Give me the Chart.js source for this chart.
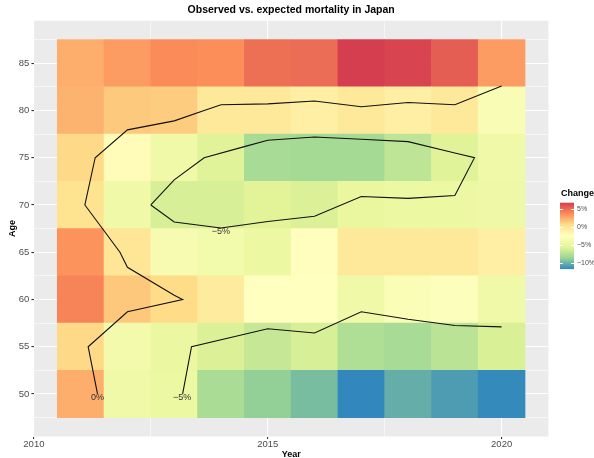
<!DOCTYPE html>
<html lang="en">
<head>
<meta charset="UTF-8">
<title>Observed vs. expected mortality in Japan</title>
<script src="https://cdn.jsdelivr.net/npm/chart.js"></script>
<style>
  body { margin: 0; background: #fff; }
  #wrap { width: 594px; height: 458px; }
</style>
</head>
<body>
<div id="wrap"><canvas id="chart" width="594" height="458"></canvas></div>
<script>
// tiles: one row per age band, columns are years
const years = [2011, 2012, 2013, 2014, 2015, 2016, 2017, 2018, 2019, 2020];
const ages = [50, 55, 60, 65, 70, 75, 80, 85];
const change50 = [2.5, -4.4, -4.8, -8.0, -8.9, -9.65, -11.8, -10.3, -11.0, -11.7];
const change55 = [0.9, -4.0, -4.9, -6.0, -6.9, -6.2, -7.8, -8.1, -7.3, -6.1];
const change60 = [4.15, 1.55, 0.8, -0.5, -2.5, -2.5, -4.3, -3.2, -2.8, -4.3];
const change65 = [3.5, 0.0, -3.6, -4.1, -4.8, -2.4, -0.2, -0.2, -0.3, -0.9];
const change70 = [0.3, -4.4, -6.2, -6.2, -5.7, -6.0, -5.0, -4.8, -4.8, -4.5];
const change75 = [0.9, -2.1, -4.4, -5.8, -8.1, -8.2, -8.2, -7.2, -5.8, -4.4];
const change80 = [2.3, 1.5, 1.4, -0.2, -0.3, -0.9, -0.2, -0.9, -0.3, -3.3];
const change85 = [2.5, 3.2, 3.8, 3.7, 4.9, 5.0, 6.85, 6.6, 5.6, 3.2];
const changeByAge = [change50, change55, change60, change65, change70, change75, change80, change85];

// contour lines (year, age)
const contourZero = [
  {x: 2020.0, y: 82.6}, {x: 2019.0, y: 80.6}, {x: 2018.0, y: 80.85}, {x: 2017.0, y: 80.4},
  {x: 2016.0, y: 81.0}, {x: 2015.0, y: 80.7}, {x: 2014.0, y: 80.6}, {x: 2013.64, y: 80.0},
  {x: 2013.0, y: 78.9}, {x: 2012.0, y: 77.95}, {x: 2011.31, y: 75.0}, {x: 2011.09, y: 70.0},
  {x: 2011.84, y: 65.0}, {x: 2012.0, y: 63.4}, {x: 2013.0, y: 60.45}, {x: 2013.18, y: 60.0},
  {x: 2012.0, y: 58.7}, {x: 2011.16, y: 55.0}, {x: 2011.36, y: 50.0}
];
const contourInner = [
  {x: 2012.5, y: 70.0}, {x: 2013.0, y: 72.65}, {x: 2013.64, y: 75.0}, {x: 2014.48, y: 76.15},
  {x: 2015.0, y: 76.85}, {x: 2016.0, y: 77.2}, {x: 2017.0, y: 76.95}, {x: 2018.0, y: 76.7},
  {x: 2019.0, y: 75.5}, {x: 2019.42, y: 75.0}, {x: 2019.0, y: 71.0}, {x: 2018.0, y: 70.7},
  {x: 2017.0, y: 70.9}, {x: 2016.0, y: 68.8}, {x: 2015.0, y: 68.25}, {x: 2014.0, y: 67.56},
  {x: 2013.0, y: 68.2}, {x: 2012.5, y: 70.0}
];
const contourLower = [
  {x: 2013.18, y: 50.0}, {x: 2013.37, y: 55.0}, {x: 2015.0, y: 56.9}, {x: 2016.0, y: 56.45},
  {x: 2017.0, y: 58.7}, {x: 2018.0, y: 57.9}, {x: 2019.0, y: 57.25}, {x: 2020.0, y: 57.1}
];
const contourLabels = [
  {x: 2011.36, y: 49.65, text: '0%'},
  {x: 2013.17, y: 49.65, text: '\u22125%'},
  {x: 2014.0, y: 67.15, text: '\u22125%'}
];

const xGrid = [2010, 2012.5, 2015, 2017.5, 2020];
const yGrid = [47.5, 50, 52.5, 55, 57.5, 60, 62.5, 65, 67.5, 70, 72.5, 75, 77.5, 80, 82.5, 85, 87.5];
const legendBreaks = [5, 0, -5, -10];
const spectral = ['#3288BD', '#99D594', '#E6F598', '#FFFFBF', '#FEE08B', '#FC8D59', '#D53E4F'];

const allValues = changeByAge.flat();
const vMin = Math.min(...allValues);
const vMax = Math.max(...allValues);
const font = 'Liberation Sans, Arial, Helvetica, sans-serif';

function hexRgb(h) {
  return [parseInt(h.slice(1, 3), 16), parseInt(h.slice(3, 5), 16), parseInt(h.slice(5, 7), 16)];
}
function fillFor(v) {
  let t = (v - vMin) / (vMax - vMin) * (spectral.length - 1);
  t = Math.max(0, Math.min(spectral.length - 1, t));
  const i = Math.min(Math.floor(t), spectral.length - 2);
  const f = t - i;
  const a = hexRgb(spectral[i]), b = hexRgb(spectral[i + 1]);
  const c = a.map((x, k) => Math.round(x + (b[k] - x) * f));
  return 'rgb(' + c.join(',') + ')';
}

const tileSets = ages.map((age, r) => ({
  type: 'bar',
  order: 1,
  grouped: false,
  barPercentage: 1,
  categoryPercentage: 1,
  data: years.map(yr => ({x: yr, y: [age - 2.5, age + 2.5]})),
  backgroundColor: changeByAge[r].map(fillFor),
  borderWidth: 0
}));

function lineSet(points) {
  return {
    type: 'line', order: 0, data: points, borderColor: '#111', borderWidth: 1.1,
    pointRadius: 0, tension: 0, fill: false
  };
}

const panelBg = {
  id: 'panelBg',
  beforeDraw(chart) {
    const {ctx, chartArea: a} = chart;
    ctx.save();
    ctx.fillStyle = '#EBEBEB';
    ctx.fillRect(a.left, a.top, a.right - a.left, a.bottom - a.top);
    ctx.restore();
  }
};

const contourText = {
  id: 'contourText',
  afterDatasetsDraw(chart) {
    const {ctx, scales: {x, y}} = chart;
    ctx.save();
    ctx.font = '9px ' + font;
    ctx.fillStyle = '#333333';
    ctx.textAlign = 'center';
    ctx.textBaseline = 'middle';
    contourLabels.forEach(l => ctx.fillText(l.text, x.getPixelForValue(l.x), y.getPixelForValue(l.y)));
    ctx.restore();
  }
};

const colourBar = {
  id: 'colourBar',
  afterDraw(chart) {
    const ctx = chart.ctx;
    const left = 560, width = 14, top = 202.7, height = 66.4;
    ctx.save();
    ctx.font = 'bold 9px ' + font;
    ctx.fillStyle = '#000';
    ctx.textBaseline = 'middle';
    ctx.fillText('Change', 561, 194);
    const g = ctx.createLinearGradient(0, top + height, 0, top);
    spectral.forEach((c, i) => g.addColorStop(i / (spectral.length - 1), c));
    ctx.fillStyle = g;
    ctx.fillRect(left, top, width, height);
    const py = v => top + height - (v - vMin) / (vMax - vMin) * height;
    ctx.strokeStyle = '#fff';
    ctx.lineWidth = 1;
    ctx.font = '7px ' + font;
    ctx.fillStyle = '#4d4d4d';
    legendBreaks.forEach(v => {
      const yy = Math.round(py(v)) + 0.5;
      ctx.beginPath();
      ctx.moveTo(left, yy); ctx.lineTo(left + 2.8, yy);
      ctx.moveTo(left + width - 2.8, yy); ctx.lineTo(left + width, yy);
      ctx.stroke();
      ctx.fillText((v < 0 ? '\u2212' + Math.abs(v) : String(v)) + '%', left + width + 3, py(v));
    });
    ctx.restore();
  }
};

const isMajor = v => v % 5 === 0;

new Chart(document.getElementById('chart'), {
  type: 'bar',
  data: {
    datasets: [lineSet(contourZero), lineSet(contourInner), lineSet(contourLower)].concat(tileSets)
  },
  options: {
    responsive: false,
    devicePixelRatio: 1,
    animation: false,
    layout: { padding: { left: 0, top: 0, right: 45.6, bottom: 0 } },
    plugins: {
      legend: { display: false },
      tooltip: { enabled: false },
      title: {
        display: true, fullSize: false,
        text: 'Observed vs. expected mortality in Japan',
        color: '#000', font: { size: 10.5, weight: 'bold', family: font },
        padding: { top: 4.2, bottom: 3.9 }
      }
    },
    scales: {
      x: {
        type: 'linear', min: 2010, max: 2021, offset: false,
        border: { display: false },
        grid: {
          offset: false, color: '#fff',
          lineWidth: c => (c.tick && isMajor(c.tick.value)) ? 1.1 : 0.55,
          tickColor: c => (c.tick && isMajor(c.tick.value)) ? '#333333' : 'rgba(0,0,0,0)',
          tickLength: 2.5, tickWidth: 1.1
        },
        ticks: {
          autoSkip: false, maxRotation: 0, padding: 0, color: '#4d4d4d',
          font: { size: 9.5, family: font },
          callback: v => isMajor(v) ? String(v) : ''
        },
        afterBuildTicks: s => { s.ticks = xGrid.map(v => ({value: v})); },
        afterFit: s => { s.height = 21.5; },
        title: { display: true, text: 'Year', color: '#000', font: { size: 9, weight: 'bold', family: font }, padding: { top: 0, bottom: -2 } }
      },
      y: {
        type: 'linear', min: 45.5, max: 89.5,
        border: { display: false },
        grid: {
          color: '#fff',
          lineWidth: c => (c.tick && isMajor(c.tick.value)) ? 1.1 : 0.55,
          tickColor: c => (c.tick && isMajor(c.tick.value)) ? '#333333' : 'rgba(0,0,0,0)',
          tickLength: 2.5, tickWidth: 1.1
        },
        ticks: {
          autoSkip: false, padding: 2, color: '#4d4d4d',
          font: { size: 9.5, family: font },
          callback: v => isMajor(v) ? String(v) : ''
        },
        afterBuildTicks: s => { s.ticks = yGrid.map(v => ({value: v})); },
        afterFit: s => { s.width = 33.9; },
        title: { display: true, text: 'Age', color: '#000', font: { size: 9, weight: 'bold', family: font }, padding: { top: 7, bottom: 0 } }
      }
    }
  },
  plugins: [panelBg, contourText, colourBar]
});
</script>
</body>
</html>
